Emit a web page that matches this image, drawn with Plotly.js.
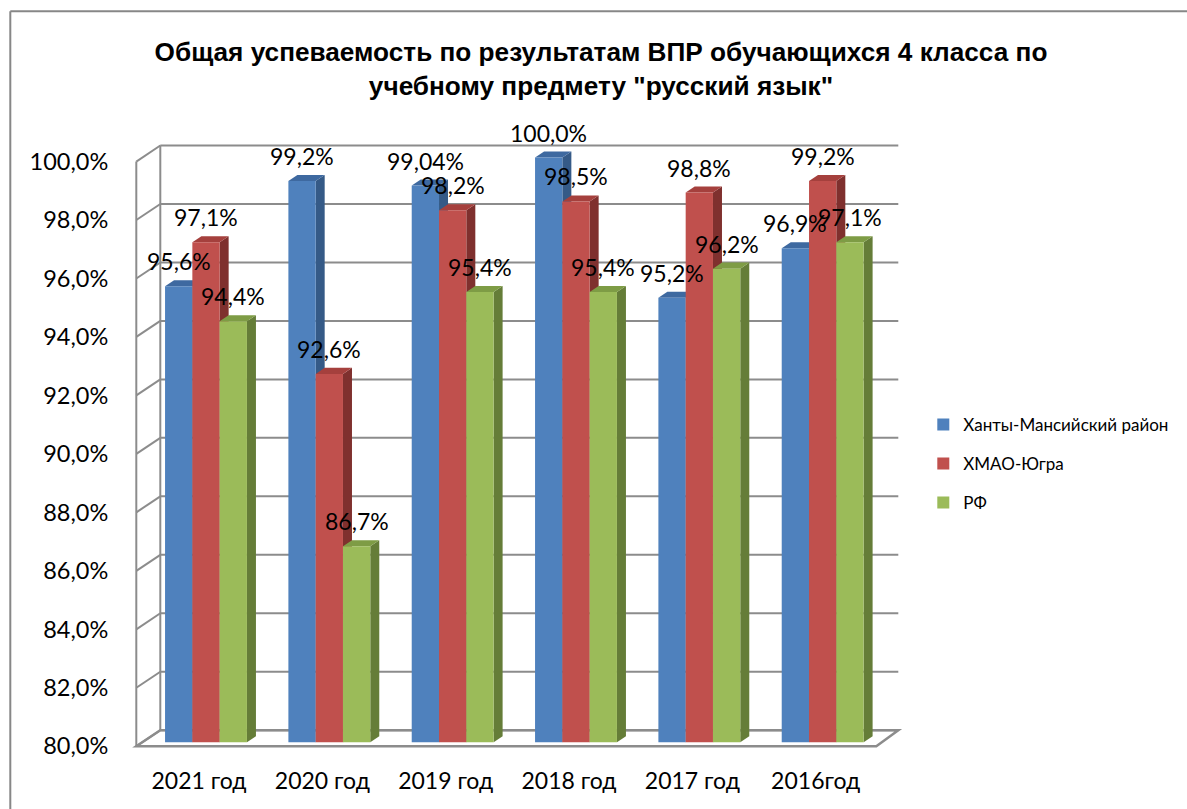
<!DOCTYPE html>
<html>
<head>
<meta charset="utf-8">
<script src="https://cdn.plot.ly/plotly-3.0.1.min.js"></script>
<style>html,body{margin:0;padding:0;background:#fff;}#chart{width:1187px;height:809px;}</style>
</head>
<body>
<div id="chart"></div>
<script>
// ---- data ----
const categories = ['2021 год', '2020 год', '2019 год', '2018 год', '2017 год', '2016год'];
const seriesNames = ['Ханты-Мансийский район', 'ХМАО-Югра', 'РФ'];
const hmRaion = [95.6, 99.2, 99.04, 100.0, 95.2, 96.9];
const hmaoUgra = [97.1, 92.6, 98.2, 98.5, 98.8, 99.2];
const rf = [94.4, 86.7, 95.4, 95.4, 96.2, 97.1];
const yTicks = [80, 82, 84, 86, 88, 90, 92, 94, 96, 98, 100];

// ---- styling / geometry ----
const W = 1187, H = 809;
const L = 131.7, R = 908.7, T = 140.48, B = 750.76;
const XR = [-0.6, 5.7], YR = [79.7, 100.6];
const KX = (R - L) / (XR[1] - XR[0]);
const KY = (B - T) / (YR[1] - YR[0]);
const BASE = 80;
const BARGAP = 0.336;
const BW = (1 - BARGAP) / 3;
const fronts = ['#4F81BD', '#C0504D', '#9BBB59'];
const tops = ['#3E69A0', '#A5403D', '#7E9C45'];
const sides = ['#355A87', '#7F302E', '#657D38'];
const series = [hmRaion, hmaoUgra, rf];

const xd = px => XR[0] + (px - L) / KX;       // pixel -> data x
const dyPx = p => p / KY;                     // pixel length -> data y
const fmt = v => (Math.abs(Math.round(v * 100) % 10) !== 0 ? v.toFixed(2) : v.toFixed(1)).replace('.', ',') + '%';

// walls (pixel geometry of the 3D frame)
const FRONT_L = 136, BACK_L = 160, BACK_R = 898, FRONT_R = 876;
const FRONT_DY = 4, BACK_DY = -12;
const gridColor = '#8C8C8C';

const shapes = [];
// outer frame of the chart area
const pxX = px => (px - L) / (R - L);
const pxY = py => (B - py) / (B - T);
shapes.push({type: 'line', xref: 'paper', yref: 'paper', x0: pxX(10), x1: pxX(1200), y0: pxY(12), y1: pxY(12), line: {color: '#878787', width: 2}});
shapes.push({type: 'line', xref: 'paper', yref: 'paper', x0: pxX(10), x1: pxX(10), y0: pxY(12), y1: pxY(820), line: {color: '#878787', width: 2}});

yTicks.forEach(v => {
  const yb = v - dyPx(BACK_DY), yf = v - dyPx(FRONT_DY);
  shapes.push({type: 'line', layer: 'below', x0: xd(BACK_L), x1: xd(BACK_R), y0: yb, y1: yb, line: {color: gridColor, width: 2}});
  shapes.push({type: 'line', layer: 'below', x0: xd(FRONT_L), x1: xd(BACK_L), y0: yf, y1: yb, line: {color: gridColor, width: 2}});
});
const vMin = yTicks[0], vMax = yTicks[yTicks.length - 1];
shapes.push({type: 'line', layer: 'below', x0: xd(FRONT_L), x1: xd(FRONT_L), y0: vMin - dyPx(FRONT_DY), y1: vMax - dyPx(FRONT_DY), line: {color: gridColor, width: 2}});
shapes.push({type: 'line', layer: 'below', x0: xd(BACK_L), x1: xd(BACK_L), y0: vMin - dyPx(BACK_DY), y1: vMax - dyPx(BACK_DY), line: {color: gridColor, width: 2}});
// floor
shapes.push({type: 'path', layer: 'below',
  path: `M${xd(FRONT_L)},${vMin - dyPx(FRONT_DY)} L${xd(FRONT_R)},${vMin - dyPx(FRONT_DY)} L${xd(BACK_R)},${vMin - dyPx(BACK_DY)} L${xd(BACK_L)},${vMin - dyPx(BACK_DY)} Z`,
  fillcolor: 'rgba(0,0,0,0)', line: {color: gridColor, width: 2.5}});

// 3D faces of bars (computed from data)
const DX = 9 / KX, DY = dyPx(6);
const sideShapes = [], topShapes = [];
series.forEach((vals, i) => {
  vals.forEach((v, j) => {
    const xc = j + (i - 1) * BW;
    const xl = xc - BW / 2, xr = xc + BW / 2;
    sideShapes.push({type: 'path', layer: 'below', line: {width: 0}, fillcolor: sides[i],
      path: `M${xr},${BASE} L${xr},${v} L${xr + DX},${v + DY} L${xr + DX},${BASE + DY} Z`});
    topShapes.push({type: 'path', layer: 'below', line: {width: 0}, fillcolor: tops[i],
      path: `M${xl},${v} L${xr},${v} L${xr + DX},${v + DY} L${xl + DX},${v + DY} Z`});
  });
});
shapes.push(...sideShapes, ...topShapes);

// data labels
const annotations = [];
series.forEach((vals, i) => {
  vals.forEach((v, j) => {
    annotations.push({x: j + (i - 1) * BW, y: v, yshift: 25, text: fmt(v), showarrow: false,
      font: {family: 'Lato, sans-serif', size: 23, color: '#000'}, xanchor: 'center', yanchor: 'middle'});
  });
});

const traces = series.map((vals, i) => ({
  type: 'bar', name: seriesNames[i], legendgroup: 'g' + i,
  x: categories.map((c, j) => j), y: vals.map(v => v - BASE), base: BASE,
  customdata: vals, text: categories, textposition: 'none',
  hovertemplate: '%{text}: %{customdata}%<extra>' + seriesNames[i] + '</extra>',
  marker: {color: fronts[i], line: {width: 0}}
}));
traces.push({type: 'scatter', x: [], y: [], yaxis: 'y2', showlegend: false, hoverinfo: 'skip'});

const plotW = R - L, plotH = B - T;
const layout = {
  width: W, height: H,
  margin: {l: L, r: W - R, t: T, b: H - B, pad: 0},
  paper_bgcolor: '#fff', plot_bgcolor: 'rgba(0,0,0,0)',
  separators: ', ',
  barmode: 'group', bargap: BARGAP, bargroupgap: 0,
  title: {
    text: '<b>Общая успеваемость по результатам ВПР обучающихся 4 класса по<br>учебному предмету "русский язык"</b>',
    font: {family: 'Liberation Sans, Arial, sans-serif', size: 26.2, color: '#000'},
    x: 601 / W, xanchor: 'center', xref: 'container',
    y: 1 - 61 / H, yanchor: 'top', yref: 'container'
  },
  xaxis: {
    range: XR, showgrid: false, zeroline: false, showline: false,
    tickmode: 'array', tickvals: categories.map((c, j) => j - 7 / KX), ticktext: categories,
    ticks: 'outside', ticklen: 9, tickcolor: 'rgba(0,0,0,0)',
    tickfont: {family: 'Lato, sans-serif', size: 23, color: '#000'}, fixedrange: true
  },
  yaxis: {range: YR, showgrid: false, zeroline: false, showline: false, showticklabels: false, ticks: '', fixedrange: true},
  yaxis2: {
    overlaying: 'y', side: 'left', range: [YR[0] + dyPx(FRONT_DY), YR[1] + dyPx(FRONT_DY)],
    showgrid: false, zeroline: false, showline: false,
    tickmode: 'array', tickvals: yTicks, ticktext: yTicks.map(fmt),
    ticks: 'outside', ticklen: 18, tickcolor: 'rgba(0,0,0,0)',
    tickfont: {family: 'Lato, sans-serif', size: 23.5, color: '#000'}, fixedrange: true
  },
  showlegend: true,
  legend: {
    x: (963 - 40 - L) / plotW, xanchor: 'left',
    y: (B - 407) / plotH, yanchor: 'top',
    traceorder: 'grouped', tracegroupgap: 14,
    font: {family: 'Lato, sans-serif', size: 17, color: '#000'},
    bgcolor: 'rgba(0,0,0,0)', itemclick: false, itemdoubleclick: false
  },
  shapes: shapes,
  annotations: annotations
};

Plotly.newPlot('chart', traces, layout, {displayModeBar: false, staticPlot: false});
</script>
</body>
</html>
